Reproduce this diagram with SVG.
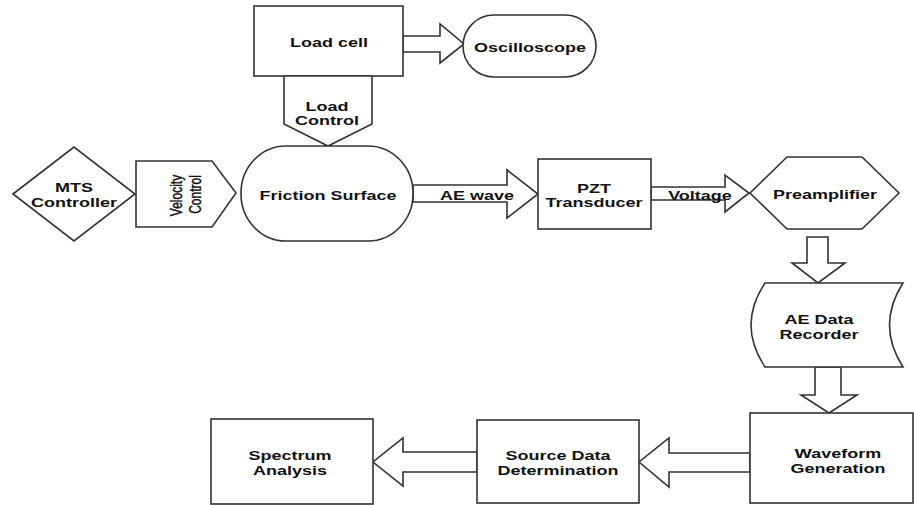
<svg xmlns="http://www.w3.org/2000/svg" width="914" height="505" viewBox="0 0 914 505">
<style>
.n{fill:#fff;stroke:#333;stroke-width:1.6;stroke-linejoin:miter}
.a{fill:#fff;stroke:#333;stroke-width:1.6;stroke-linejoin:miter}
.t{font-family:"Liberation Sans",Arial,sans-serif;font-weight:bold;font-size:12px;fill:#111;text-anchor:middle}
.v{font-family:"Liberation Sans",Arial,sans-serif;font-size:12px;fill:#111;stroke:#111;stroke-width:0.35;text-anchor:middle}
</style>
<rect width="914" height="505" fill="#fff"/>
<g id="connectors">
<polygon class="a" points="403,36 440,36 440,24 464,44 440,63 440,52 403,52"/>
<polygon class="a" points="413,185 507,185 507,170 538,194 507,218 507,202 413,202"/>
<polygon class="a" points="651,187 725,187 725,175 749,193 725,212 725,200 651,200"/>
<polygon class="a" points="807,237 828,237 828,263 845,263 818,283 792,263 807,263"/>
<polygon class="a" points="815,367 841,367 841,395 857,395 829,413 801,395 815,395"/>
<polygon class="a" points="750,453 669,453 669,438 639,462 669,487 669,472 750,472"/>
<polygon class="a" points="477,452 403,452 403,438 373,462 403,486 403,472 477,472"/>
<text class="t" transform="translate(477,200) scale(1.5,1)">AE wave</text>
<text class="t" transform="translate(700,200) scale(1.5,1)">Voltage</text>
</g>
<g id="loadcell">
<rect class="n" x="254" y="6" width="149" height="70"/>
<text class="t" transform="translate(329,47) scale(1.5,1)">Load cell</text>
</g>
<g id="oscilloscope">
<rect class="n" x="463" y="15" width="133" height="62" rx="31" ry="31"/>
<text class="t" transform="translate(530,52) scale(1.5,1)">Oscilloscope</text>
</g>
<g id="loadcontrol">
<polygon class="n" points="284,76 372,76 372,124 328,146 284,124"/>
<text class="t" transform="translate(327,111) scale(1.5,1)"><tspan x="0" y="0">Load</tspan><tspan x="0" y="14">Control</tspan></text>
</g>
<g id="friction">
<rect class="n" x="241" y="146" width="172" height="95" rx="45" ry="47"/>
<text class="t" transform="translate(328,200) scale(1.5,1)">Friction Surface</text>
</g>
<g id="mts">
<polygon class="n" points="13,194 74,147 135,194 74,241"/>
<text class="t" transform="translate(74,192) scale(1.5,1)"><tspan x="0" y="0">MTS</tspan><tspan x="0" y="15">Controller</tspan></text>
</g>
<g id="velocity">
<polygon class="n" points="136,161 212,161 236,193 212,227 136,227"/>
<text class="v" transform="translate(182,195.5) scale(1.3,1) rotate(-90)">Velocity</text>
<text class="v" transform="translate(201,194.5) scale(1.3,1) rotate(-90)">Control</text>
</g>
<g id="pzt">
<rect class="n" x="538" y="159" width="113" height="70"/>
<text class="t" transform="translate(594,193) scale(1.5,1)"><tspan x="0" y="0">PZT</tspan><tspan x="0" y="14">Transducer</tspan></text>
</g>
<g id="preamp">
<polygon class="n" points="750,193 787,157 862,157 899,193 862,229 787,229"/>
<text class="t" transform="translate(825,199) scale(1.5,1)">Preamplifier</text>
</g>
<g id="recorder">
<path class="n" d="M765,283 L903,283 Q876,325 903,367 L765,367 Q737,325 765,283 Z"/>
<text class="t" transform="translate(819,324) scale(1.5,1)"><tspan x="0" y="0">AE Data</tspan><tspan x="0" y="15">Recorder</tspan></text>
</g>
<g id="waveform">
<rect class="n" x="750" y="413" width="163" height="90"/>
<text class="t" transform="translate(838,458) scale(1.5,1)"><tspan x="0" y="0">Waveform</tspan><tspan x="0" y="15">Generation</tspan></text>
</g>
<g id="source">
<rect class="n" x="477" y="420" width="162" height="83"/>
<text class="t" transform="translate(558,460) scale(1.5,1)"><tspan x="0" y="0">Source Data</tspan><tspan x="0" y="15">Determination</tspan></text>
</g>
<g id="spectrum">
<rect class="n" x="211" y="419" width="162" height="85"/>
<text class="t" transform="translate(290,460) scale(1.5,1)"><tspan x="0" y="0">Spectrum</tspan><tspan x="0" y="15">Analysis</tspan></text>
</g>
</svg>
